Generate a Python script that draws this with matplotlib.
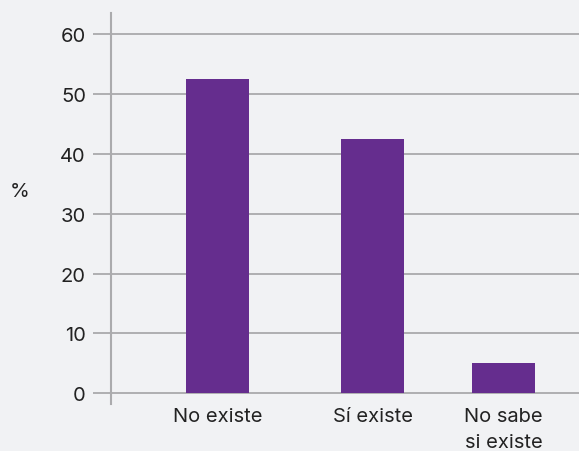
import matplotlib
matplotlib.use("Agg")
import matplotlib.pyplot as plt

# Survey responses (percent of respondents)
categories = ["No existe", "Sí existe", "No sabe\nsi existe"]
values = [52.5, 42.5, 5.0]
y_ticks = [0, 10, 20, 30, 40, 50, 60]

# Layout: category centres along the x axis
positions = [0.0, 1.0, 1.845]

BG = "#f1f2f4"
BAR = "#652d8e"
GRID = "#a3a3a5"
TEXT = "#222222"
FS = 14.5

plt.rcParams["font.family"] = ["Inter", "DejaVu Sans"]

fig = plt.figure(figsize=(5.79, 4.52), dpi=100, facecolor=BG)
ax = fig.add_axes([111 / 579, 47 / 452, 1 - 111 / 579, (405 - 14) / 452])
ax.set_facecolor(BG)

ax.bar(positions, values, width=0.406, color=BAR, zorder=3)

ax.set_xlim(-0.687, 2.332)
ax.set_ylim(-1.79, 63.56)
ax.set_yticks(y_ticks)
ax.set_yticklabels([str(t) for t in y_ticks], fontsize=FS, color=TEXT)
ax.set_xticks(positions)
ax.set_xticklabels(categories, fontsize=FS, color=TEXT, linespacing=1.6)

ax.yaxis.grid(True, color=GRID, linewidth=1.2, zorder=1)
ax.xaxis.grid(False)
ax.tick_params(axis="y", direction="out", length=13, width=1.2, color=GRID, pad=5)
ax.tick_params(axis="x", length=0, pad=2)

for side in ("top", "right", "bottom"):
    ax.spines[side].set_visible(False)
ax.spines["left"].set_color("#ababad")
ax.spines["left"].set_linewidth(1.5)

fig.text(20 / 579, 1 - 192 / 452, "%", fontsize=FS, color=TEXT, ha="center", va="center")

fig.savefig("out.png", dpi=100, facecolor=BG)
